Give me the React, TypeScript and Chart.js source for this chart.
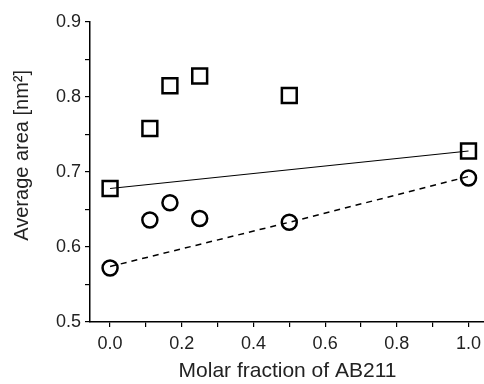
import React, { useEffect, useRef } from "react";
import { Chart, registerables } from "chart.js";

Chart.register(...registerables);

const xFractions = [0, 0.111, 0.167, 0.25, 0.5, 1.0];
const squareValues = [0.678, 0.758, 0.815, 0.828, 0.802, 0.728];
const circleValues = [0.572, 0.636, 0.659, 0.638, 0.633, 0.692];
const solidFitX = [0, 1.0];
const solidFitY = [0.678, 0.728];
const dashedFitX = [0, 0.5, 1.0];
const dashedFitY = [0.574, 0.633, 0.694];
const xTickValues = [0, 0.1, 0.2, 0.3, 0.4, 0.5, 0.6, 0.7, 0.8, 0.9, 1.0];
const yTickValues = [0.5, 0.55, 0.6, 0.65, 0.7, 0.75, 0.8, 0.85, 0.9];

const pts = (xs: number[], ys: number[]) => xs.map((x, i) => ({ x, y: ys[i] }));

export default function App() {
  const ref = useRef<HTMLCanvasElement>(null);
  useEffect(() => {
    document.body.style.margin = "0";
    const ctx = ref.current!;
    const font = "'Liberation Sans', Arial, Helvetica, sans-serif";
    const chart = new Chart(ctx, {
      type: "scatter",
      data: {
        datasets: [
          {
            type: "line",
            data: pts(solidFitX, solidFitY),
            borderColor: "#000",
            borderWidth: 1.2,
            pointRadius: 0,
            fill: false,
          } as any,
          {
            type: "line",
            data: pts(dashedFitX, dashedFitY),
            borderColor: "#000",
            borderWidth: 1.5,
            borderDash: [6, 5],
            pointRadius: 0,
            fill: false,
          } as any,
          {
            data: pts(xFractions, squareValues),
            pointStyle: "rect",
            pointRadius: 10.5,
            borderColor: "#000",
            backgroundColor: "rgba(255,255,255,0)",
            borderWidth: 2.5,
          },
          {
            data: pts(xFractions, circleValues),
            pointStyle: "circle",
            pointRadius: 7.5,
            borderColor: "#000",
            backgroundColor: "rgba(255,255,255,0)",
            borderWidth: 2.5,
          },
        ],
      },
      options: {
        animation: false,
        responsive: false,
        events: [],
        layout: { padding: { top: 22, right: 0, left: 0, bottom: 0 } },
        plugins: { legend: { display: false }, tooltip: { enabled: false } },
        scales: {
          x: {
            type: "linear",
            min: -0.056,
            max: 1.046,
            afterBuildTicks: (s: any) => {
              s.ticks = xTickValues.map((v) => ({ value: v }));
            },
            afterFit: (s: any) => {
              s.height = 62;
            },
            grid: { drawOnChartArea: false, color: "#000", tickLength: 5, lineWidth: 1.2 },
            border: { color: "#000", width: 1.5 },
            ticks: {
              autoSkip: false,
              maxRotation: 0,
              color: "#222",
              font: { family: font, size: 18 },
              padding: 6,
              callback: (v: any) => {
                const n = Math.round(Number(v) * 10);
                return n % 2 === 0 ? (n / 10).toFixed(1) : "";
              },
            },
            title: {
              display: true,
              text: "Molar fraction of AB211",
              color: "#222",
              font: { family: font, size: 21 },
              padding: { top: 0, bottom: 0 },
            },
          },
          y: {
            type: "linear",
            min: 0.5,
            max: 0.9,
            afterBuildTicks: (s: any) => {
              s.ticks = yTickValues.map((v) => ({ value: v }));
            },
            afterFit: (s: any) => {
              s.width = 90;
            },
            grid: { drawOnChartArea: false, color: "#000", tickLength: 5, lineWidth: 1.2 },
            border: { color: "#000", width: 1.5 },
            ticks: {
              autoSkip: false,
              color: "#222",
              font: { family: font, size: 18 },
              padding: 4,
              callback: (v: any) => {
                const n = Math.round(Number(v) * 100);
                return n % 10 === 0 ? (n / 100).toFixed(1) : "";
              },
            },
            title: {
              display: true,
              text: "      Average area [nm²]",
              color: "#222",
              font: { family: font, size: 20 },
              padding: { top: 10, bottom: 0 },
            },
          },
        },
      },
    });
    return () => chart.destroy();
  }, []);
  return (
    <div style={{ width: 484, height: 384, overflow: "hidden" }}>
      <canvas ref={ref} width={498} height={384} style={{ display: "block" }} />
    </div>
  );
}
